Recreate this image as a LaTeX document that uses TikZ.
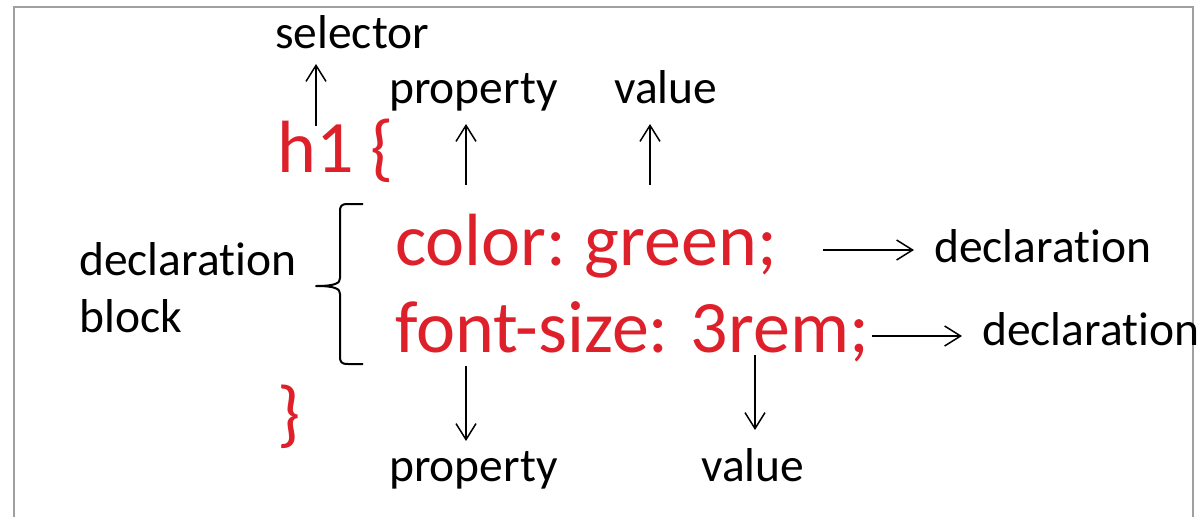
\documentclass[tikz,border=0pt]{standalone}
\usepackage{fontspec}
\setmainfont{Carlito}[Ligatures={NoCommon,NoRequired,NoContextual}]
\usetikzlibrary{arrows.meta}
\definecolor{cssred}{RGB}{221,32,42}
\definecolor{frame}{RGB}{160,160,160}
\tikzset{
  lbl/.style={anchor=base west, inner sep=0pt, font=\fontsize{47.5}{57}\selectfont, text=black},
  code/.style={anchor=base west, inner sep=0pt, font=\fontsize{74}{80}\selectfont, text=cssred},
  arr/.style={line width=1.5pt, -{Straight Barb[length=16pt,width=20pt,line width=1.5pt]}},
  bracepath/.style={line width=2pt, line join=round}
}
\begin{document}
\begin{tikzpicture}[x=1pt,y=-1pt]
\useasboundingbox (0,0) rectangle (1202,517);
\draw[frame, line width=2pt] (14,517) -- (14,7) -- (1193,7) -- (1193,517);
% texts
\node[lbl] (sel) at (275,48) {selector};
\node[lbl] (prop1) at (389,103) {property};
\node[lbl] (val1) at (614,103) {value};
\node[code] (h1) at (277,172) {h1 \{};
\node[code] (color) at (395,265) {color:\hspace{-4pt} green;};
\node[code] (font) at (395,352) {font-size: 3rem;};
\node[code] (close) at (277,438) {\}};
\node[lbl] (decl1) at (934,262) {declaration};
\node[lbl] (decl2) at (982,345) {declaration};
\node[lbl] (prop2) at (389,481) {property};
\node[lbl] (val2) at (701,481) {value};
\node[lbl, align=left] (dblock) at (79,332) {declaration\\block};
% arrow end points
\coordinate (s1) at (316,126); \coordinate (e1) at (316,64);
\coordinate (s2) at (466,185); \coordinate (e2) at (466,124);
\coordinate (s3) at (650,185); \coordinate (e3) at (650,124);
\coordinate (s4) at (823,250); \coordinate (e4) at (914,250);
\coordinate (s5) at (872,336); \coordinate (e5) at (962,336);
\coordinate (s6) at (466,366); \coordinate (e6) at (466,441);
\coordinate (s7) at (755,355); \coordinate (e7) at (755,430);
\draw[arr] (s1) -- (e1);
\draw[arr] (s2) -- (e2);
\draw[arr] (s3) -- (e3);
\draw[arr] (s4) -- (e4);
\draw[arr] (s5) -- (e5);
\draw[arr] (s6) -- (e6);
\draw[arr] (s7) -- (e7);
% brace
\coordinate (bt) at (363,204);
\coordinate (bb) at (363,364);
\coordinate (bm) at (316,286);
\draw[bracepath] (bt) -- (348,204) .. controls (341,204) and (340,206) .. (340,212)
  -- (340,278) .. controls (340,283) and (336,286) .. (bm)
  .. controls (336,286) and (340,289) .. (340,294)
  -- (340,356) .. controls (340,362) and (341,364) .. (348,364) -- (bb);
\end{tikzpicture}
\end{document}
